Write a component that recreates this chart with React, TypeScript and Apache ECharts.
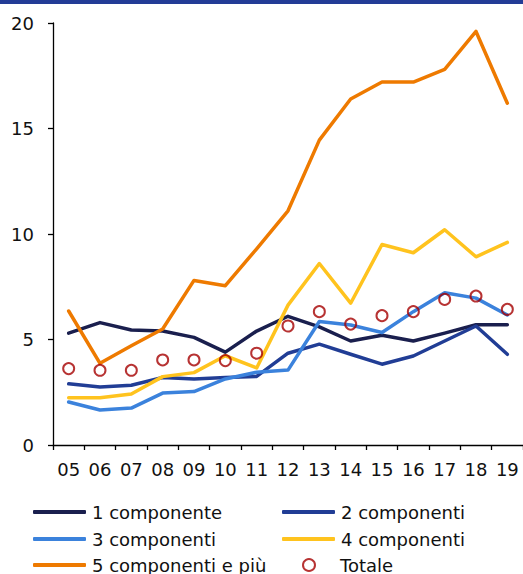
import React, { useEffect, useRef } from "react";
import * as echarts from "echarts";

const years = ["05", "06", "07", "08", "09", "10", "11", "12", "13", "14", "15", "16", "17", "18", "19"];
const comp1 = [5.3, 5.8, 5.45, 5.4, 5.1, 4.4, 5.4, 6.1, 5.6, 4.93, 5.2, 4.93, 5.3, 5.7, 5.7];
const comp2 = [2.9, 2.75, 2.83, 3.2, 3.13, 3.2, 3.25, 4.35, 4.78, 4.3, 3.83, 4.22, 4.93, 5.64, 4.3];
const comp3 = [2.04, 1.66, 1.75, 2.46, 2.53, 3.13, 3.45, 3.55, 5.85, 5.69, 5.33, 6.32, 7.22, 6.96, 6.16];
const comp4 = [2.24, 2.24, 2.42, 3.24, 3.43, 4.23, 3.65, 6.63, 8.6, 6.72, 9.5, 9.11, 10.2, 8.92, 9.6];
const comp5 = [6.35, 3.87, 4.7, 5.5, 7.8, 7.55, 9.3, 11.1, 14.45, 16.4, 17.2, 17.2, 17.8, 19.6, 16.2];
const totale = [3.62, 3.54, 3.54, 4.03, 4.03, 4.0, 4.35, 5.64, 6.32, 5.73, 6.13, 6.32, 6.9, 7.06, 6.43];

const seriesNames = ["1 componente", "2 componenti", "3 componenti", "4 componenti", "5 componenti e più", "Totale"];
const seriesColors = ["#1a1f4e", "#213d95", "#3b82dc", "#ffc31e", "#ee7a00", "#a50000"];

const FONT = "DejaVu Sans";
const FS = 18;

export default function App() {
  const ref = useRef<HTMLDivElement>(null);
  useEffect(() => {
    const chart = echarts.init(ref.current!, null, { renderer: "svg" });
    const lineSeries = (i: number, data: number[]) => ({
      name: seriesNames[i],
      type: "line",
      data,
      showSymbol: false,
      symbol: "none",
      lineStyle: { color: seriesColors[i], width: 3.5, cap: "round", join: "round" },
      itemStyle: { color: seriesColors[i] },
      z: 2,
    });
    const legendPos = [
      [33, 512],
      [282, 512],
      [33, 539],
      [282, 539],
      [33, 565],
      [302, 565],
    ];
    const legends = seriesNames.map((name, i) => {
      const isTot = i === 5;
      return {
        orient: "horizontal",
        left: legendPos[i][0],
        top: legendPos[i][1] - 11,
        padding: 0,
        itemWidth: isTot ? 12 : 53,
        itemHeight: isTot ? 12 : 4,
        itemGap: 0,
        textStyle: {
          fontSize: FS,
          color: "#111",
          fontFamily: FONT,
          lineHeight: 22,
          padding: isTot ? [0, 0, 0, 20] : [0, 0, 0, 1],
        },
        data: [
          isTot
            ? { name, icon: "circle", itemStyle: { color: "#fff", borderColor: "#a50000", borderWidth: 2 } }
            : { name, icon: "roundRect" },
        ],
      };
    });
    chart.setOption({
      animation: false,
      textStyle: { fontFamily: FONT },
      graphic: [
        { type: "rect", left: 0, top: 0, shape: { width: 523, height: 4 }, style: { fill: "#233c96" } },
      ],
      grid: { left: 53, right: 0, top: 23, bottom: 129, containLabel: false },
      xAxis: {
        type: "category",
        data: years,
        boundaryGap: true,
        axisLine: { lineStyle: { color: "#000", width: 1.3 } },
        axisTick: { show: true, length: 5, lineStyle: { color: "#000", width: 1.3 } },
        axisLabel: { color: "#111", fontSize: FS, fontFamily: FONT, margin: 15, interval: 0 },
      },
      yAxis: {
        type: "value",
        min: 0,
        max: 20,
        interval: 5,
        splitLine: { show: false },
        axisLine: { show: true, lineStyle: { color: "#000", width: 1.3 } },
        axisTick: { show: true, length: 5, lineStyle: { color: "#000", width: 1.3 } },
        axisLabel: { color: "#111", fontSize: FS, fontFamily: FONT, margin: 19 },
      },
      legend: legends,
      series: [
        lineSeries(0, comp1),
        lineSeries(1, comp2),
        lineSeries(2, comp3),
        lineSeries(3, comp4),
        lineSeries(4, comp5),
        {
          name: seriesNames[5],
          type: "scatter",
          data: totale,
          symbol: "circle",
          symbolSize: 11,
          itemStyle: { color: "rgba(255,255,255,0)", borderColor: seriesColors[5], borderWidth: 2 },
          z: 5,
        },
      ],
    });
    return () => chart.dispose();
  }, []);
  return (
    <div
      ref={ref}
      style={{ position: "fixed", left: 0, top: 0, width: 523, height: 574, background: "#fff" }}
    />
  );
}
